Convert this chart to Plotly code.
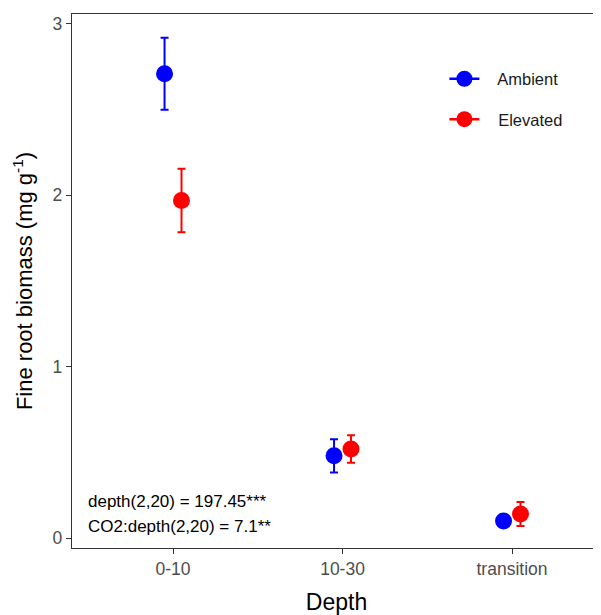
import plotly.graph_objects as go

depths = ["0-10", "10-30", "transition"]
ambient_mean = [2.71, 0.48, 0.10]
ambient_se = [0.21, 0.097, 0.03]
elevated_mean = [1.97, 0.52, 0.14]
elevated_se = [0.185, 0.08, 0.07]
treatments = ["Ambient", "Elevated"]
colors = ["#0000FF", "#FF0000"]
dodge = [-0.05, 0.05]
stats_text = ["depth(2,20) = 197.45***", "CO2:depth(2,20) = 7.1**"]

font_family = "Liberation Sans, Arial, sans-serif"

fig = go.Figure()
means = [ambient_mean, elevated_mean]
ses = [ambient_se, elevated_se]
xpos = list(range(1, len(depths) + 1))
for i, name in enumerate(treatments):
    fig.add_trace(go.Scatter(
        x=[p + dodge[i] for p in xpos], y=means[i], mode="markers",
        marker=dict(color=colors[i], size=17),
        error_y=dict(type="data", array=ses[i], color=colors[i], thickness=2, width=4),
        showlegend=False, name=name,
    ))
for i, name in enumerate(treatments):
    fig.add_trace(go.Scatter(
        x=[None], y=[None], mode="lines+markers", name="   " + name,
        line=dict(color=colors[i], width=2.5),
        marker=dict(color=colors[i], size=17),
        legendgroup=name,
    ))

for j, t in enumerate(stats_text):
    fig.add_annotation(x=0.488, y=0.215 - j * 0.145, xref="x", yref="y", text=t,
                       showarrow=False, xanchor="left", yanchor="middle",
                       font=dict(size=17, color="black", family=font_family))

# page body has an 8px margin, so the figure is sized/offset to compensate
fig.update_layout(
    width=593, height=607,
    margin=dict(l=64, r=0, t=6, b=67),
    plot_bgcolor="white", paper_bgcolor="white",
    font=dict(family=font_family),
    legend=dict(x=0.704, y=0.911, xanchor="left", yanchor="top",
                font=dict(size=16.5, color="#1a1a1a"), tracegroupgap=16,
                bgcolor="rgba(0,0,0,0)"),
    xaxis=dict(range=[0.404, 3.525], tickmode="array", tickvals=xpos, ticktext=depths,
               automargin=False,
               showgrid=False, zeroline=False, showline=True, linecolor="#333333",
               linewidth=1.3, mirror=True, ticks="outside", ticklen=5, tickwidth=1.3,
               tickcolor="#333333", tickfont=dict(size=17.5, color="#4d4d4d"),
               title=dict(text="Depth", font=dict(size=23, color="black"), standoff=24)),
    yaxis=dict(range=[-0.058, 3.058], tickvals=[0, 1, 2, 3], automargin=False,
               showgrid=False, zeroline=False, showline=True, linecolor="#333333",
               linewidth=1.3, ticks="outside", ticklen=5, tickwidth=1.3,
               tickcolor="#333333", tickfont=dict(size=17.5, color="#4d4d4d"),
               title=dict(text="Fine root biomass (mg g<sup>-1</sup>)",
                          font=dict(size=22, color="black"), standoff=13)),
)

fig.write_html("out.html")
